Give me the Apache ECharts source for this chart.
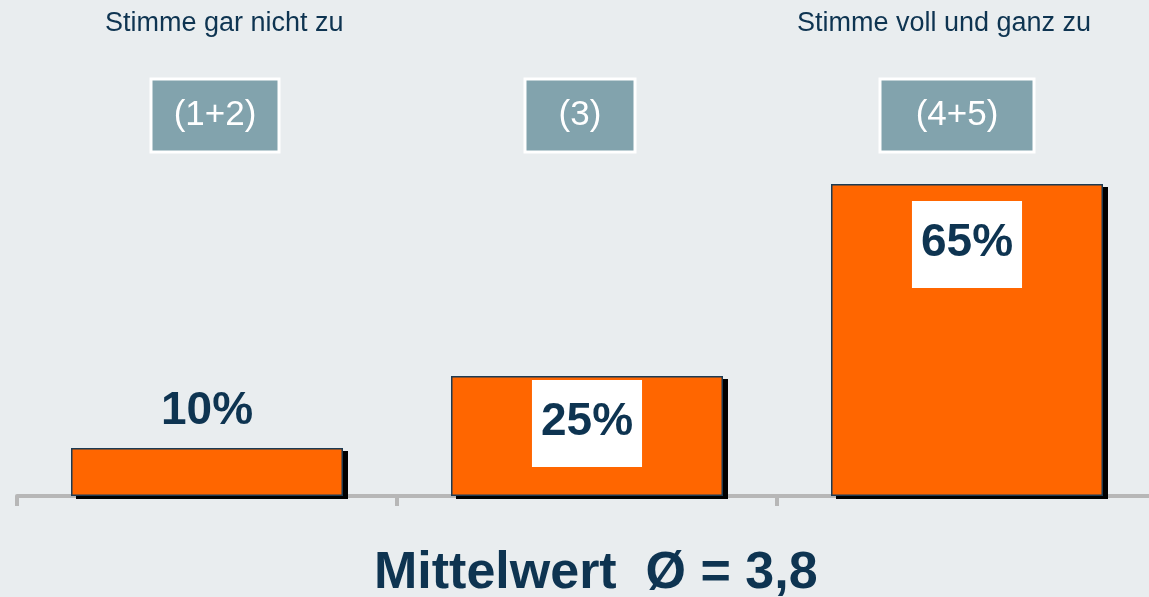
<!DOCTYPE html>
<html>
<head>
<meta charset="UTF-8">
<title>Mittelwert</title>
<script src="https://cdn.jsdelivr.net/npm/echarts@6/dist/echarts.min.js"></script>
<style>
html, body { margin: 0; padding: 0; background: #e9edef; }
#main { width: 1149px; height: 597px; }
</style>
</head>
<body>
<div id="main"></div>
<script>
var categories = ['(1+2)', '(3)', '(4+5)'];
var shares = [10, 25, 65];
var valueLabels = ['10%', '25%', '65%'];
var scaleEnds = ['Stimme gar nicht zu', 'Stimme voll und ganz zu'];
var meanText = 'Mittelwert  Ø = 3,8';

var navy = '#0e3451';
var font = 'Liberation Sans, Arial, sans-serif';
var chart = echarts.init(document.getElementById('main'));

// graue Kästchen oben, jede Box etwas anders breit wie im Original
var boxBase = {
    color: '#fff', fontSize: 35, fontFamily: font,
    backgroundColor: '#82a3ad', borderColor: '#fff', borderWidth: 3,
    height: 70, lineHeight: 70, align: 'center'
};
var rich = {
    b0: Object.assign({ width: 125 }, boxBase),
    b1: Object.assign({ width: 107 }, boxBase),
    b2: Object.assign({ width: 151 }, boxBase),
    s16: { width: 16 },
    s14: { width: 14 },
    s20: { width: 20 }
};
var boxFmt = [
    function (v) { return '{s16| }{b0|' + v + '}'; },
    function (v) { return '{b1|' + v + '}{s14| }'; },
    function (v) { return '{b2|' + v + '}{s20| }'; }
];

var boxLabel = { backgroundColor: '#fff', padding: [19, 9, 22, 9] };
var labelStyles = [
    { position: 'top', distance: 14 },
    Object.assign({ position: 'insideTop', distance: 4 }, boxLabel),
    Object.assign({ position: 'insideTop', distance: 17 }, boxLabel)
];

chart.setOption({
    backgroundColor: '#e9edef',
    animation: false,
    title: [
        { text: scaleEnds[0], left: 105, top: 10, padding: 0,
          textStyle: { fontSize: 27, fontWeight: 'normal', color: navy, fontFamily: font } },
        { text: scaleEnds[1], left: 797, top: 10, padding: 0,
          textStyle: { fontSize: 27, fontWeight: 'normal', color: navy, fontFamily: font } },
        { text: meanText, left: 374, top: 548, padding: 0,
          textStyle: { fontSize: 52, fontWeight: 'bold', color: navy, fontFamily: font } }
    ],
    grid: { left: 17, top: 16, width: 1140, bottom: 101, outerBoundsMode: 'none' },
    xAxis: [{
        type: 'category',
        data: categories,
        axisLine: { lineStyle: { color: '#b7b7b7', width: 4 } },
        axisTick: { show: true, length: 10, lineStyle: { color: '#b7b7b7', width: 4 } },
        axisLabel: { show: false }
    }, {
        type: 'category',
        data: categories,
        position: 'top',
        offset: -136,
        axisLine: { show: false },
        axisTick: { show: false },
        axisLabel: {
            margin: 1.5,
            rich: rich,
            formatter: function (v, i) { return boxFmt[i](v); }
        }
    }],
    yAxis: { type: 'value', min: 0, max: 100, show: false },
    series: [{
        // Füllung mit hartem Schatten rechts
        type: 'bar',
        barWidth: 272,
        data: shares,
        itemStyle: {
            color: '#ff6600',
            shadowColor: '#000',
            shadowBlur: 0,
            shadowOffsetX: 5,
            shadowOffsetY: 3
        },
        z: 2
    }, {
        // nur der dunkle Rahmen, darüber die Beschriftung
        type: 'bar',
        barWidth: 272,
        barGap: '-100%',
        data: shares.map(function (v, i) { return { value: v, label: labelStyles[i] }; }),
        itemStyle: {
            color: 'rgba(0,0,0,0)',
            borderColor: '#1d3b53',
            borderWidth: 1.5
        },
        label: {
            show: true,
            fontSize: 46,
            fontWeight: 'bold',
            lineHeight: 46,
            color: navy,
            fontFamily: font,
            formatter: function (p) { return valueLabels[p.dataIndex]; }
        },
        z: 3
    }]
});
</script>
</body>
</html>
